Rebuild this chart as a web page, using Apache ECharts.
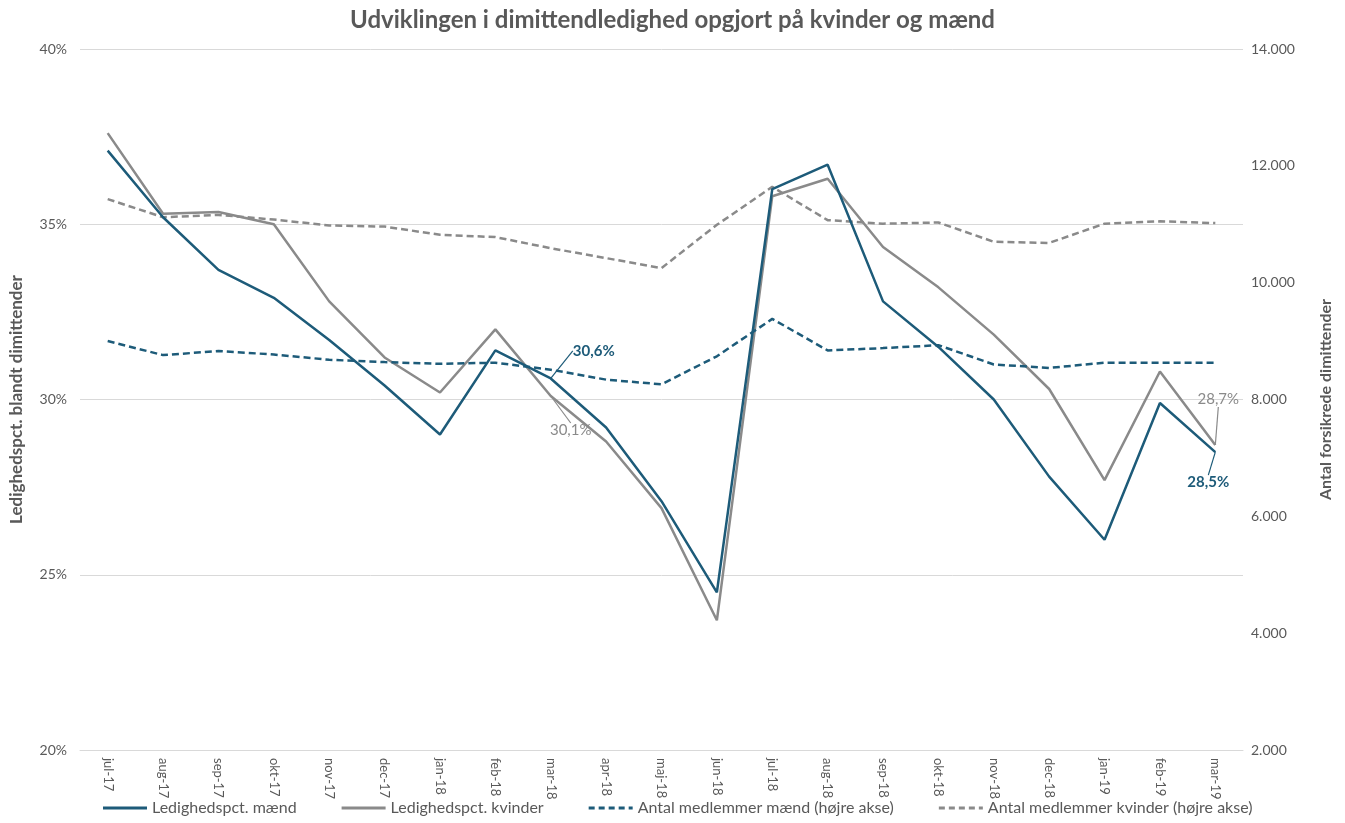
<!DOCTYPE html>
<html><head><meta charset="utf-8">
<script src="https://cdn.jsdelivr.net/npm/echarts@6/dist/echarts.min.js"></script>
<style>html,body{margin:0;padding:0;background:#fff}#c{width:1345px;height:823px}</style>
</head><body><div id="c"></div>
<script>
const categories = ['jul-17','aug-17','sep-17','okt-17','nov-17','dec-17','jan-18','feb-18','mar-18','apr-18','maj-18','jun-18','jul-18','aug-18','sep-18','okt-18','nov-18','dec-18','jan-19','feb-19','mar-19'];
const ledighedMaend   = [37.1,35.2,33.7,32.9,31.7,30.4,29.0,31.4,30.6,29.2,27.1,24.5,36.0,36.7,32.8,31.5,30.0,27.8,26.0,29.9,28.5];
const ledighedKvinder = [37.6,35.3,35.35,35.0,32.8,31.2,30.2,32.0,30.1,28.8,26.9,23.7,35.8,36.3,34.35,33.2,31.85,30.3,27.7,30.8,28.7];
const medlemmerMaend   = [9000,8760,8830,8770,8680,8640,8610,8630,8510,8340,8260,8740,9380,8840,8880,8930,8600,8540,8630,8630,8630];
const medlemmerKvinder = [11430,11120,11160,11080,10980,10960,10820,10780,10590,10420,10250,10990,11640,11070,11010,11030,10700,10680,11010,11050,11020];
const leftTicks = [20,25,30,35,40];
const rightTicks = [2000,4000,6000,8000,10000,12000,14000];

const BLUE = '#1d5b79', GRAY = '#8a8a8a', TXT = '#595959';
const FONT = 'Lato';
const pct = v => String(v).replace('.', ',') + '%';

const labelMaend = {8:[43,-15], 20:[-7,43]};
const labelKvinder = {8:[20,47], 20:[3,-33]};

function withLabels(arr, spec, color, bold) {
  return arr.map((v,i) => spec[i] ? {
    value: v,
    label: {show:true, position:'top', formatter: p => pct(p.value), color: color,
            fontFamily: FONT, fontSize: 15, fontWeight: bold ? 'bold' : 'normal'},
    labelLine: {show:true, lineStyle:{color: color, width:1.2}}
  } : v);
}
function layoutFn(spec) {
  return function(params) {
    const o = spec[params.dataIndex];
    if (!o) return {};
    return {dx: o[0], dy: o[1]};
  };
}
const solidIcon = 'path://M0,0 L44,0 L44,3 L0,3 Z';
const dashIcon = 'path://M0,0 L6,0 L6,3 L0,3 Z M10,0 L16,0 L16,3 L10,3 Z M20,0 L26,0 L26,3 L20,3 Z M30,0 L36,0 L36,3 L30,3 Z M40,0 L44,0 L44,3 L40,3 Z';

const chart = echarts.init(document.getElementById('c'));
chart.setOption({
  animation: false,
  textStyle: {fontFamily: FONT},
  title: {text: 'Udviklingen i dimittendledighed opgjort på kvinder og mænd', left: 'center', top: 3,
    textStyle: {fontFamily: FONT, fontSize: 24, fontWeight: 'bold', color: TXT}},
  grid: {left: 78, right: 102, top: 49, bottom: 73},
  legend: {bottom: 2, left: 98, itemGap: 45, itemWidth: 44, itemHeight: 3,
    textStyle: {fontFamily: FONT, fontSize: 16, color: TXT},
    data: [
      {name: 'Ledighedspct. mænd', icon: solidIcon},
      {name: 'Ledighedspct. kvinder', icon: solidIcon},
      {name: 'Antal medlemmer mænd (højre akse)', icon: dashIcon},
      {name: 'Antal medlemmer kvinder (højre akse)', icon: dashIcon}]},
  xAxis: {type: 'category', data: categories, boundaryGap: true,
    axisLine: {lineStyle: {color: '#d9d9d9'}}, axisTick: {show: false},
    axisLabel: {rotate: -90, color: TXT, fontSize: 13, fontFamily: FONT, margin: 8, interval: 0}},
  yAxis: [
    {type: 'value', min: leftTicks[0], max: leftTicks[leftTicks.length-1], interval: 5,
     name: 'Ledighedspct. blandt dimittender', nameLocation: 'middle', nameGap: 55, nameRotate: 90,
     nameTextStyle: {fontFamily: FONT, fontSize: 17, fontWeight: 'bold', color: TXT},
     axisLabel: {formatter: v => v + '%', color: TXT, fontSize: 14, fontFamily: FONT, margin: 13},
     axisLine: {show: false}, axisTick: {show: false},
     splitLine: {lineStyle: {color: '#d9d9d9', width: 1}}},
    {type: 'value', min: rightTicks[0], max: rightTicks[rightTicks.length-1], interval: 2000,
     name: 'Antal forsikrede dimittender', nameLocation: 'middle', nameGap: 75, nameRotate: 90,
     nameTextStyle: {fontFamily: FONT, fontSize: 16, fontWeight: 'bold', color: TXT},
     axisLabel: {formatter: v => v.toLocaleString('de-DE'), color: TXT, fontSize: 14, fontFamily: FONT, margin: 8},
     axisLine: {show: false}, axisTick: {show: false}, splitLine: {show: false}}
  ],
  series: [
    {name: 'Ledighedspct. mænd', type: 'line', yAxisIndex: 0, symbol: 'circle', symbolSize: 0.01, showSymbol: true,
     lineStyle: {color: BLUE, width: 2.5}, itemStyle: {color: BLUE}, z: 4,
     data: withLabels(ledighedMaend, labelMaend, BLUE, true), labelLayout: layoutFn(labelMaend)},
    {name: 'Ledighedspct. kvinder', type: 'line', yAxisIndex: 0, symbol: 'circle', symbolSize: 0.01, showSymbol: true,
     lineStyle: {color: GRAY, width: 2.5}, itemStyle: {color: GRAY}, z: 3,
     data: withLabels(ledighedKvinder, labelKvinder, GRAY, false), labelLayout: layoutFn(labelKvinder)},
    {name: 'Antal medlemmer mænd (højre akse)', type: 'line', yAxisIndex: 1, symbol: 'none',
     lineStyle: {color: BLUE, width: 2.5, type: [7,4]}, itemStyle: {color: BLUE}, data: medlemmerMaend},
    {name: 'Antal medlemmer kvinder (højre akse)', type: 'line', yAxisIndex: 1, symbol: 'none',
     lineStyle: {color: GRAY, width: 2.5, type: [7,4]}, itemStyle: {color: GRAY}, data: medlemmerKvinder}
  ]
});
</script></body></html>
